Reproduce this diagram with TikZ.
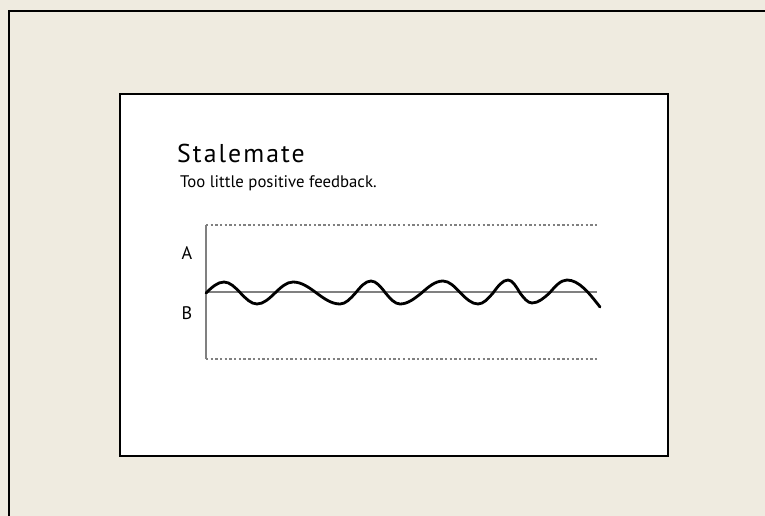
\documentclass[tikz,border=0pt]{standalone}
\usepackage{fontspec}
\setmainfont{PT Sans}
\usepackage{tikz}
\usetikzlibrary{positioning}
\definecolor{matte}{RGB}{239,235,224}
\definecolor{axisgray}{RGB}{128,128,128}

\begin{document}
\begin{tikzpicture}[
    x=0.03cm, y=-0.03cm,
    axis/.style={draw=axisgray, line width=1.2pt},
    limit/.style={draw=axisgray, line width=0.9pt, dash pattern=on 2pt off 2pt},
    wave/.style={draw=black, line width=2.4pt, line join=round, line cap=round},
    lbl/.style={font=\fontsize{15.5}{18}\selectfont, inner sep=0pt}
]
% Mat and card
\fill[matte] (0,0) rectangle (765,516);
\useasboundingbox (0,0) rectangle (765,516);
\draw[line width=1.7pt] (9,516) -- (9,11) -- (765,11);
\draw[fill=white, line width=1.2pt] (120,94) rectangle (668,456);

% Heading
\node[anchor=base west, inner sep=0pt, font=\fontsize{22}{26}\selectfont\addfontfeature{LetterSpace=8}] (title) at (177,163) {Stalemate};
\node[anchor=base west, inner sep=0pt, font=\fontsize{14.3}{17}\selectfont] (subtitle) at (180,188) {Too little positive feedback.};

% Chart frame
\coordinate (topL) at (206,225);
\coordinate (topR) at (597,225);
\coordinate (botL) at (206,359);
\coordinate (botR) at (597,359);
\coordinate (midL) at (206,292);
\coordinate (midR) at (597,292);
\node[lbl] (labA) at (187,253) {A};
\node[lbl] (labB) at (187,313) {B};
\draw[limit] (topL) -- (topR);
\draw[limit] (botL) -- (botR);
\draw[axis] (topL) -- (botL);
\draw[axis] (midL) -- (midR);

% Oscillation
\draw[wave] (206,293) sin (224,282) cos (240.5,293) sin (257,304) cos (275,293) sin (293,282)
  cos (316.5,293) sin (340,304) cos (355.5,293) sin (371,281) cos (385.5,293) sin (400,304)
  cos (421.5,293) sin (443,281) cos (460.5,293) sin (478,304) cos (493,293) sin (508,280)
  cos (520,293) sin (532,303) cos (549.5,293) sin (567,280) cos (600,307);
\end{tikzpicture}
\end{document}
